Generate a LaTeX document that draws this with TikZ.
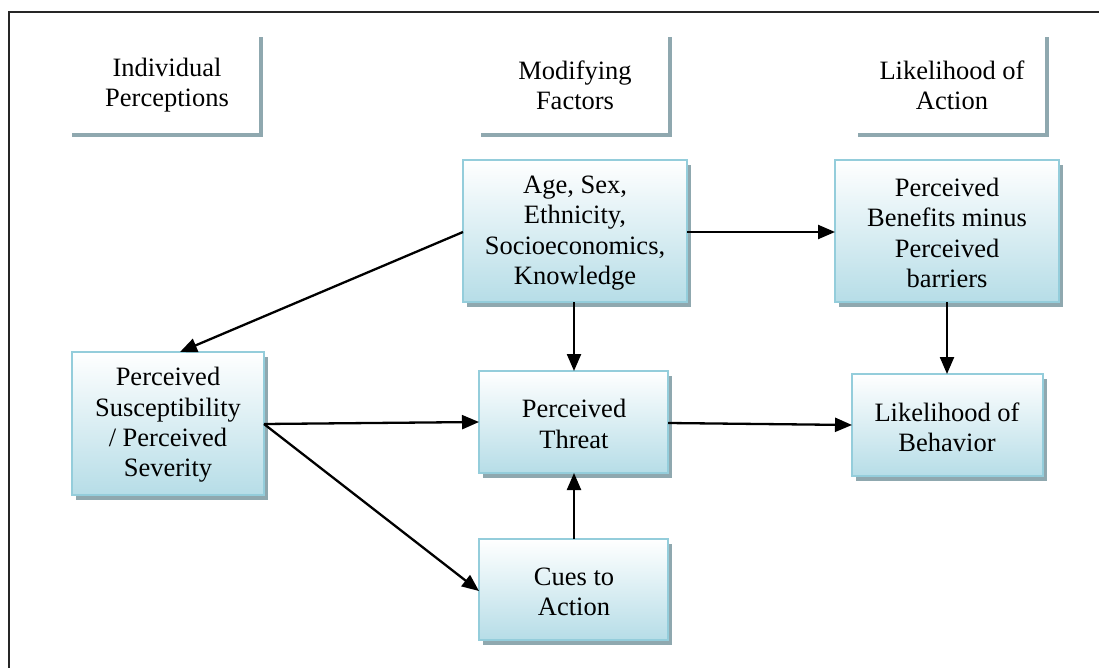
\documentclass[tikz,border=0pt]{standalone}
\usepackage{fontspec}
\setmainfont{Liberation Serif}
\usetikzlibrary{arrows.meta,shadows}
\definecolor{boxedge}{HTML}{94CDDB}
\definecolor{boxbottom}{HTML}{B6DDE7}
\definecolor{shadowgray}{HTML}{8FA8AF}
\definecolor{headeredge}{HTML}{8FA8AF}
\tikzset{
  txt/.style={font=\fontsize{26.5}{30.3}\selectfont, align=center, inner sep=0pt},
  factorbox/.style={draw=boxedge, line width=2.2pt, top color=white, bottom color=boxbottom,
    drop shadow={shadow xshift=4pt, shadow yshift=-5pt, fill=shadowgray, opacity=1}},
  link/.style={line width=2.3pt, -{Triangle[length=17pt,width=14pt]}},
  hdr/.style={draw=headeredge, line width=3.5pt},
}
\begin{document}
\begin{tikzpicture}[x=1pt,y=-1pt]
  \useasboundingbox (0,0) rectangle (1099,668);
  % outer frame, running off the right and bottom
  \draw[line width=2.2pt, black!85] (9,680) -- (9,12) -- (1110,12);

  % column headings with their corner rules
  \node[txt] (h1) at (167,85) {Individual\\Perceptions};
  \node[txt] (h2) at (575,85) {Modifying\\Factors};
  \node[txt] (h3) at (952,85) {Likelihood of\\Action};
  \draw[hdr] (72,135) -- (261,135) -- (261,37);
  \draw[hdr] (481,135) -- (670,135) -- (670,37);
  \draw[hdr] (858,135) -- (1047,135) -- (1047,37);

  % boxes
  \path[factorbox] (463,160) rectangle (687,302);
  \node[txt] (age) at (575,233) {Age, Sex,\\Ethnicity,\\Socioeconomics,\\Knowledge};
  \coordinate (ageL) at (463,232);
  \coordinate (ageR) at (687,232);
  \coordinate (ageB) at (574,302);

  \path[factorbox] (835,160) rectangle (1059,302);
  \node[txt] (ben) at (947,233) {Perceived\\Benefits minus\\Perceived\\barriers};
  \coordinate (benL) at (835,232);
  \coordinate (benB) at (947,302);

  \path[factorbox] (72,352) rectangle (264,495);
  \node[txt] (sus) at (168,425) {Perceived\\Susceptibility\\/ Perceived\\Severity};
  \coordinate (susT) at (180,352);
  \coordinate (susR) at (264,424);

  \path[factorbox] (479,371) rectangle (668,473);
  \node[txt] (thr) at (574,424) {Perceived\\Threat};
  \coordinate (thrT) at (574,371);
  \coordinate (thrL) at (479,422);
  \coordinate (thrR) at (668,423);
  \coordinate (thrB) at (574,473);

  \path[factorbox] (852,374) rectangle (1043,476);
  \node[txt] (beh) at (947,427) {Likelihood of\\Behavior};
  \coordinate (behT) at (947,374);
  \coordinate (behL) at (852,425);

  \path[factorbox] (479,539) rectangle (668,640);
  \node[txt] (cue) at (574,592) {Cues to\\Action};
  \coordinate (cueT) at (574,539);
  \coordinate (cueL) at (479,591);

  % connectors
  \draw[link] (ageL) -- (susT);
  \draw[link] (ageR) -- (benL);
  \draw[link] (ageB) -- (thrT);
  \draw[link] (benB) -- (behT);
  \draw[link] (susR) -- (thrL);
  \draw[link] (susR) -- (cueL);
  \draw[link] (cueT) -- (thrB);
  \draw[link] (thrR) -- (behL);
\end{tikzpicture}
\end{document}
